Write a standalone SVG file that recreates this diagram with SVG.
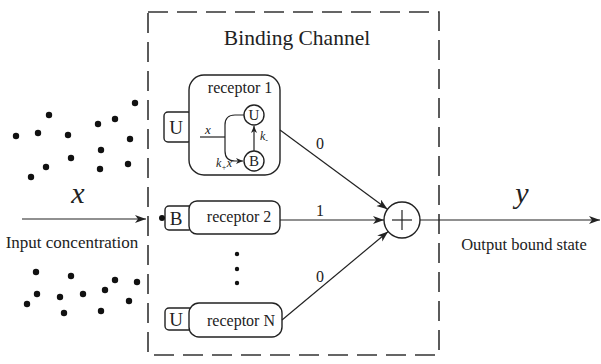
<svg xmlns="http://www.w3.org/2000/svg" width="601" height="364" viewBox="0 0 601 364">
<style>
text{font-family:"Liberation Serif","Times New Roman",serif;fill:#222}
.box{fill:#fff;stroke:#222;stroke-width:1.4}
.ln{fill:none;stroke:#222;stroke-width:1.2}
.dot{fill:#111}
.it{font-style:italic}
</style>
<defs>
<marker id="ah" markerWidth="12" markerHeight="10" refX="11" refY="4" orient="auto" markerUnits="userSpaceOnUse">
<path d="M0,0 L11,4 L0,8 L3,4 z" fill="#222"/>
</marker>
<marker id="ahs" markerWidth="8" markerHeight="7" refX="7" refY="3" orient="auto" markerUnits="userSpaceOnUse">
<path d="M0,0 L7,3 L0,6 L2,3 z" fill="#222"/>
</marker>
</defs>
<rect id="channel" x="148" y="12" width="291" height="343" fill="none" stroke="#333" stroke-width="1.6" stroke-dasharray="20 9"/>
<text x="297" y="45" font-size="21.5" text-anchor="middle">Binding Channel</text>
<g id="input-molecules">
<circle class="dot" cx="135" cy="103" r="3.2"/><circle class="dot" cx="49" cy="115" r="3.2"/><circle class="dot" cx="16" cy="136" r="3.2"/><circle class="dot" cx="38" cy="133" r="3.2"/><circle class="dot" cx="68" cy="135" r="3.2"/><circle class="dot" cx="98" cy="124" r="3.2"/><circle class="dot" cx="115" cy="119" r="3.2"/><circle class="dot" cx="130" cy="139" r="3.2"/><circle class="dot" cx="101" cy="150" r="3.2"/><circle class="dot" cx="71" cy="158" r="3.2"/><circle class="dot" cx="46" cy="167" r="3.2"/><circle class="dot" cx="31" cy="177" r="3.2"/><circle class="dot" cx="100" cy="169" r="3.2"/><circle class="dot" cx="128" cy="164" r="3.2"/>
<circle class="dot" cx="36" cy="272" r="3.2"/><circle class="dot" cx="71" cy="276" r="3.2"/><circle class="dot" cx="115" cy="280" r="3.2"/><circle class="dot" cx="137" cy="282" r="3.2"/><circle class="dot" cx="37" cy="294" r="3.2"/><circle class="dot" cx="60" cy="297" r="3.2"/><circle class="dot" cx="83" cy="294" r="3.2"/><circle class="dot" cx="105" cy="290" r="3.2"/><circle class="dot" cx="27" cy="304" r="3.2"/><circle class="dot" cx="64" cy="313" r="3.2"/><circle class="dot" cx="101" cy="311" r="3.2"/><circle class="dot" cx="129" cy="301" r="3.2"/>
</g>
<g id="input">
<text x="78" y="203" font-size="30" class="it" text-anchor="middle">x</text>
<text x="72" y="248" font-size="17" text-anchor="middle">Input concentration</text>
</g>
<g id="receptor1">
<rect class="box" x="164" y="112" width="28" height="30" rx="4"/>
<text x="176" y="134" font-size="19" text-anchor="middle">U</text>
<rect class="box" x="189" y="75" width="91" height="100" rx="15"/>
<text x="240" y="93" font-size="16" text-anchor="middle">receptor 1</text>
<line class="ln" x1="200" y1="137" x2="225" y2="137"/>
<path class="ln" d="M244,115 L235,115 Q225,115 225,125 L225,151 Q225,161 235,161 L243,161" marker-end="url(#ahs)"/>
<circle class="box" cx="254" cy="115" r="10" stroke-width="1.2"/>
<text x="254" y="120" font-size="15" text-anchor="middle">U</text>
<circle class="box" cx="254" cy="161" r="10" stroke-width="1.2"/>
<text x="254" y="166" font-size="15" text-anchor="middle">B</text>
<line class="ln" x1="254" y1="151" x2="254" y2="126" marker-end="url(#ahs)"/>
<text x="205" y="134" font-size="13" class="it">x</text>
<text x="260" y="140" font-size="12" class="it">k<tspan font-size="8" dy="3">-</tspan></text>
<text x="216" y="167" font-size="12" class="it">k<tspan font-size="8" dy="3">+</tspan><tspan dy="-3">x</tspan></text>
</g>
<g id="receptor2">
<rect class="box" x="165" y="206" width="28" height="24" rx="4"/>
<text x="176" y="225" font-size="19" text-anchor="middle">B</text>
<circle class="dot" cx="162" cy="218" r="3"/>
<rect class="box" x="189" y="201" width="91" height="33" rx="8"/>
<text x="239" y="222" font-size="16" text-anchor="middle">receptor 2</text>
</g>
<g id="ellipsis">
<circle class="dot" cx="237" cy="254" r="2.2"/><circle class="dot" cx="237" cy="269" r="2.2"/><circle class="dot" cx="237" cy="283" r="2.2"/>
</g>
<g id="receptorN">
<rect class="box" x="165" y="308" width="28" height="22" rx="4"/>
<text x="176" y="326" font-size="19" text-anchor="middle">U</text>
<rect class="box" x="189" y="303" width="93" height="34" rx="10"/>
<text x="241" y="326" font-size="16" text-anchor="middle">receptor N</text>
</g>
<g id="sum">
<circle class="box" cx="402" cy="220" r="18" stroke-width="1.3"/>
<line class="ln" x1="392" y1="220" x2="412" y2="220" stroke-width="1.6"/>
<line class="ln" x1="402" y1="210" x2="402" y2="230" stroke-width="1.6"/>
</g>
<g id="output">
<text x="522" y="203" font-size="30" class="it" text-anchor="middle">y</text>
<text x="524" y="250" font-size="16.5" text-anchor="middle">Output bound state</text>
</g>
<g id="connectors">
<line class="ln" x1="22" y1="219" x2="146" y2="219" marker-end="url(#ah)"/>
<line class="ln" x1="280" y1="130" x2="387.5" y2="209.3" marker-end="url(#ah)"/>
<line class="ln" x1="280" y1="220" x2="384" y2="220" marker-end="url(#ah)"/>
<line class="ln" x1="282" y1="320" x2="388.2" y2="231.5" marker-end="url(#ah)"/>
<line class="ln" x1="420" y1="220" x2="600" y2="220" marker-end="url(#ah)"/>
<text x="320" y="149" font-size="16" text-anchor="middle">0</text>
<text x="320" y="216" font-size="16" text-anchor="middle">1</text>
<text x="320" y="282" font-size="16" text-anchor="middle">0</text>
</g>
</svg>
